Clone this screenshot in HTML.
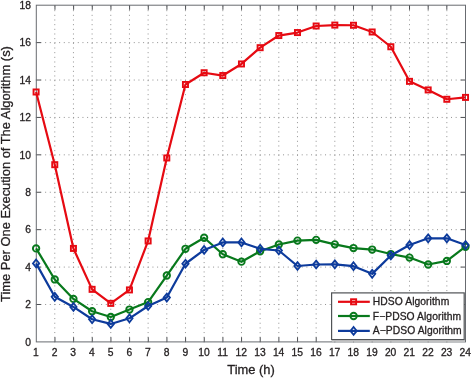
<!DOCTYPE html><html><head><meta charset="utf-8"><title>chart</title><style>html,body{margin:0;padding:0;background:#fff}svg{display:block}text{font-family:"Liberation Sans",Arial,Helvetica,sans-serif;fill:#231f20;stroke:#231f20;stroke-width:0.3px}</style></head><body>
<svg width="472" height="378" viewBox="0 0 472 378">
<rect width="472" height="378" fill="#fff"/>
<path d="M54.77 342.40V5.20M73.44 342.40V5.20M92.11 342.40V5.20M110.78 342.40V5.20M129.45 342.40V5.20M148.12 342.40V5.20M166.79 342.40V5.20M185.46 342.40V5.20M204.13 342.40V5.20M222.80 342.40V5.20M241.47 342.40V5.20M260.14 342.40V5.20M278.81 342.40V5.20M297.48 342.40V5.20M316.15 342.40V5.20M334.82 342.40V5.20M353.49 342.40V5.20M372.16 342.40V5.20M390.83 342.40V5.20M409.50 342.40V5.20M428.17 342.40V5.20M446.84 342.40V5.20M35.80 304.49H465.50M35.80 267.08H465.50M35.80 229.67H465.50M35.80 192.26H465.50M35.80 154.84H465.50M35.80 117.43H465.50M35.80 80.02H465.50M35.80 42.61H465.50" fill="none" stroke="#929292" stroke-width="1" stroke-dasharray="1 3.6652"/>
<path d="M54.96 341.90v-4.6M54.96 5.20v4.6M73.62 341.90v-4.6M73.62 5.20v4.6M92.28 341.90v-4.6M92.28 5.20v4.6M110.94 341.90v-4.6M110.94 5.20v4.6M129.60 341.90v-4.6M129.60 5.20v4.6M148.27 341.90v-4.6M148.27 5.20v4.6M166.93 341.90v-4.6M166.93 5.20v4.6M185.59 341.90v-4.6M185.59 5.20v4.6M204.25 341.90v-4.6M204.25 5.20v4.6M222.91 341.90v-4.6M222.91 5.20v4.6M241.57 341.90v-4.6M241.57 5.20v4.6M260.23 341.90v-4.6M260.23 5.20v4.6M278.89 341.90v-4.6M278.89 5.20v4.6M297.55 341.90v-4.6M297.55 5.20v4.6M316.21 341.90v-4.6M316.21 5.20v4.6M334.87 341.90v-4.6M334.87 5.20v4.6M353.53 341.90v-4.6M353.53 5.20v4.6M372.20 341.90v-4.6M372.20 5.20v4.6M390.86 341.90v-4.6M390.86 5.20v4.6M409.52 341.90v-4.6M409.52 5.20v4.6M428.18 341.90v-4.6M428.18 5.20v4.6M446.84 341.90v-4.6M446.84 5.20v4.6M36.30 304.49h4.6M465.50 304.49h-4.6M36.30 267.08h4.6M465.50 267.08h-4.6M36.30 229.67h4.6M465.50 229.67h-4.6M36.30 192.26h4.6M465.50 192.26h-4.6M36.30 154.84h4.6M465.50 154.84h-4.6M36.30 117.43h4.6M465.50 117.43h-4.6M36.30 80.02h4.6M465.50 80.02h-4.6M36.30 42.61h4.6M465.50 42.61h-4.6" fill="none" stroke="#4c4e52" stroke-width="1"/>
<rect x="36.30" y="5.20" width="429.20" height="336.70" fill="none" stroke="#686b70" stroke-width="1"/>
<polyline points="36.10,91.99 54.77,164.69 73.44,248.42 92.11,289.35 110.78,303.37 129.45,289.92 148.12,240.95 166.79,157.96 185.46,84.51 204.13,72.74 222.80,75.54 241.47,63.95 260.14,47.69 278.81,35.54 297.48,32.55 316.15,26.01 334.82,25.08 353.49,25.27 372.16,31.99 390.83,46.76 409.50,81.34 428.17,89.93 446.84,99.28 465.51,97.41" fill="none" stroke="#e60a12" stroke-width="2.2" stroke-linejoin="round"/>
<rect x="33.55" y="89.44" width="5.1" height="5.1" fill="none" stroke="#e60a12" stroke-width="1.9"/>
<rect x="52.22" y="162.14" width="5.1" height="5.1" fill="none" stroke="#e60a12" stroke-width="1.9"/>
<rect x="70.89" y="245.87" width="5.1" height="5.1" fill="none" stroke="#e60a12" stroke-width="1.9"/>
<rect x="89.56" y="286.80" width="5.1" height="5.1" fill="none" stroke="#e60a12" stroke-width="1.9"/>
<rect x="108.23" y="300.82" width="5.1" height="5.1" fill="none" stroke="#e60a12" stroke-width="1.9"/>
<rect x="126.90" y="287.37" width="5.1" height="5.1" fill="none" stroke="#e60a12" stroke-width="1.9"/>
<rect x="145.57" y="238.40" width="5.1" height="5.1" fill="none" stroke="#e60a12" stroke-width="1.9"/>
<rect x="164.24" y="155.41" width="5.1" height="5.1" fill="none" stroke="#e60a12" stroke-width="1.9"/>
<rect x="182.91" y="81.96" width="5.1" height="5.1" fill="none" stroke="#e60a12" stroke-width="1.9"/>
<rect x="201.58" y="70.19" width="5.1" height="5.1" fill="none" stroke="#e60a12" stroke-width="1.9"/>
<rect x="220.25" y="72.99" width="5.1" height="5.1" fill="none" stroke="#e60a12" stroke-width="1.9"/>
<rect x="238.92" y="61.40" width="5.1" height="5.1" fill="none" stroke="#e60a12" stroke-width="1.9"/>
<rect x="257.59" y="45.14" width="5.1" height="5.1" fill="none" stroke="#e60a12" stroke-width="1.9"/>
<rect x="276.26" y="32.99" width="5.1" height="5.1" fill="none" stroke="#e60a12" stroke-width="1.9"/>
<rect x="294.93" y="30.00" width="5.1" height="5.1" fill="none" stroke="#e60a12" stroke-width="1.9"/>
<rect x="313.60" y="23.46" width="5.1" height="5.1" fill="none" stroke="#e60a12" stroke-width="1.9"/>
<rect x="332.27" y="22.53" width="5.1" height="5.1" fill="none" stroke="#e60a12" stroke-width="1.9"/>
<rect x="350.94" y="22.72" width="5.1" height="5.1" fill="none" stroke="#e60a12" stroke-width="1.9"/>
<rect x="369.61" y="29.44" width="5.1" height="5.1" fill="none" stroke="#e60a12" stroke-width="1.9"/>
<rect x="388.28" y="44.21" width="5.1" height="5.1" fill="none" stroke="#e60a12" stroke-width="1.9"/>
<rect x="406.95" y="78.79" width="5.1" height="5.1" fill="none" stroke="#e60a12" stroke-width="1.9"/>
<rect x="425.62" y="87.38" width="5.1" height="5.1" fill="none" stroke="#e60a12" stroke-width="1.9"/>
<rect x="444.29" y="96.73" width="5.1" height="5.1" fill="none" stroke="#e60a12" stroke-width="1.9"/>
<rect x="462.96" y="94.86" width="5.1" height="5.1" fill="none" stroke="#e60a12" stroke-width="1.9"/>
<polyline points="36.10,248.42 54.77,279.45 73.44,298.89 92.11,311.22 110.78,317.02 129.45,309.54 148.12,302.06 166.79,275.52 185.46,248.80 204.13,237.77 222.80,254.22 241.47,261.69 260.14,251.23 278.81,244.50 297.48,240.57 316.15,239.83 334.82,244.31 353.49,248.05 372.16,249.55 390.83,254.03 409.50,257.58 428.17,264.50 446.84,260.95 465.51,246.74" fill="none" stroke="#08791c" stroke-width="2.2" stroke-linejoin="round"/>
<circle cx="36.10" cy="248.42" r="3.2" fill="none" stroke="#08791c" stroke-width="1.9"/>
<circle cx="54.77" cy="279.45" r="3.2" fill="none" stroke="#08791c" stroke-width="1.9"/>
<circle cx="73.44" cy="298.89" r="3.2" fill="none" stroke="#08791c" stroke-width="1.9"/>
<circle cx="92.11" cy="311.22" r="3.2" fill="none" stroke="#08791c" stroke-width="1.9"/>
<circle cx="110.78" cy="317.02" r="3.2" fill="none" stroke="#08791c" stroke-width="1.9"/>
<circle cx="129.45" cy="309.54" r="3.2" fill="none" stroke="#08791c" stroke-width="1.9"/>
<circle cx="148.12" cy="302.06" r="3.2" fill="none" stroke="#08791c" stroke-width="1.9"/>
<circle cx="166.79" cy="275.52" r="3.2" fill="none" stroke="#08791c" stroke-width="1.9"/>
<circle cx="185.46" cy="248.80" r="3.2" fill="none" stroke="#08791c" stroke-width="1.9"/>
<circle cx="204.13" cy="237.77" r="3.2" fill="none" stroke="#08791c" stroke-width="1.9"/>
<circle cx="222.80" cy="254.22" r="3.2" fill="none" stroke="#08791c" stroke-width="1.9"/>
<circle cx="241.47" cy="261.69" r="3.2" fill="none" stroke="#08791c" stroke-width="1.9"/>
<circle cx="260.14" cy="251.23" r="3.2" fill="none" stroke="#08791c" stroke-width="1.9"/>
<circle cx="278.81" cy="244.50" r="3.2" fill="none" stroke="#08791c" stroke-width="1.9"/>
<circle cx="297.48" cy="240.57" r="3.2" fill="none" stroke="#08791c" stroke-width="1.9"/>
<circle cx="316.15" cy="239.83" r="3.2" fill="none" stroke="#08791c" stroke-width="1.9"/>
<circle cx="334.82" cy="244.31" r="3.2" fill="none" stroke="#08791c" stroke-width="1.9"/>
<circle cx="353.49" cy="248.05" r="3.2" fill="none" stroke="#08791c" stroke-width="1.9"/>
<circle cx="372.16" cy="249.55" r="3.2" fill="none" stroke="#08791c" stroke-width="1.9"/>
<circle cx="390.83" cy="254.03" r="3.2" fill="none" stroke="#08791c" stroke-width="1.9"/>
<circle cx="409.50" cy="257.58" r="3.2" fill="none" stroke="#08791c" stroke-width="1.9"/>
<circle cx="428.17" cy="264.50" r="3.2" fill="none" stroke="#08791c" stroke-width="1.9"/>
<circle cx="446.84" cy="260.95" r="3.2" fill="none" stroke="#08791c" stroke-width="1.9"/>
<circle cx="465.51" cy="246.74" r="3.2" fill="none" stroke="#08791c" stroke-width="1.9"/>
<polyline points="36.10,263.38 54.77,296.83 73.44,306.92 92.11,319.26 110.78,323.93 129.45,318.32 148.12,305.99 166.79,297.58 185.46,263.75 204.13,249.92 222.80,242.44 241.47,242.44 260.14,248.80 278.81,250.48 297.48,265.99 316.15,264.50 334.82,264.31 353.49,266.18 372.16,273.84 390.83,255.53 409.50,245.06 428.17,238.33 446.84,238.33 465.51,245.06" fill="none" stroke="#0d3b9c" stroke-width="2.2" stroke-linejoin="round"/>
<path d="M36.10 259.48l3.15 3.9l-3.15 3.9l-3.15 -3.9z" fill="none" stroke="#0d3b9c" stroke-width="1.8"/>
<path d="M54.77 292.93l3.15 3.9l-3.15 3.9l-3.15 -3.9z" fill="none" stroke="#0d3b9c" stroke-width="1.8"/>
<path d="M73.44 303.02l3.15 3.9l-3.15 3.9l-3.15 -3.9z" fill="none" stroke="#0d3b9c" stroke-width="1.8"/>
<path d="M92.11 315.36l3.15 3.9l-3.15 3.9l-3.15 -3.9z" fill="none" stroke="#0d3b9c" stroke-width="1.8"/>
<path d="M110.78 320.03l3.15 3.9l-3.15 3.9l-3.15 -3.9z" fill="none" stroke="#0d3b9c" stroke-width="1.8"/>
<path d="M129.45 314.42l3.15 3.9l-3.15 3.9l-3.15 -3.9z" fill="none" stroke="#0d3b9c" stroke-width="1.8"/>
<path d="M148.12 302.09l3.15 3.9l-3.15 3.9l-3.15 -3.9z" fill="none" stroke="#0d3b9c" stroke-width="1.8"/>
<path d="M166.79 293.68l3.15 3.9l-3.15 3.9l-3.15 -3.9z" fill="none" stroke="#0d3b9c" stroke-width="1.8"/>
<path d="M185.46 259.85l3.15 3.9l-3.15 3.9l-3.15 -3.9z" fill="none" stroke="#0d3b9c" stroke-width="1.8"/>
<path d="M204.13 246.02l3.15 3.9l-3.15 3.9l-3.15 -3.9z" fill="none" stroke="#0d3b9c" stroke-width="1.8"/>
<path d="M222.80 238.54l3.15 3.9l-3.15 3.9l-3.15 -3.9z" fill="none" stroke="#0d3b9c" stroke-width="1.8"/>
<path d="M241.47 238.54l3.15 3.9l-3.15 3.9l-3.15 -3.9z" fill="none" stroke="#0d3b9c" stroke-width="1.8"/>
<path d="M260.14 244.90l3.15 3.9l-3.15 3.9l-3.15 -3.9z" fill="none" stroke="#0d3b9c" stroke-width="1.8"/>
<path d="M278.81 246.58l3.15 3.9l-3.15 3.9l-3.15 -3.9z" fill="none" stroke="#0d3b9c" stroke-width="1.8"/>
<path d="M297.48 262.09l3.15 3.9l-3.15 3.9l-3.15 -3.9z" fill="none" stroke="#0d3b9c" stroke-width="1.8"/>
<path d="M316.15 260.60l3.15 3.9l-3.15 3.9l-3.15 -3.9z" fill="none" stroke="#0d3b9c" stroke-width="1.8"/>
<path d="M334.82 260.41l3.15 3.9l-3.15 3.9l-3.15 -3.9z" fill="none" stroke="#0d3b9c" stroke-width="1.8"/>
<path d="M353.49 262.28l3.15 3.9l-3.15 3.9l-3.15 -3.9z" fill="none" stroke="#0d3b9c" stroke-width="1.8"/>
<path d="M372.16 269.94l3.15 3.9l-3.15 3.9l-3.15 -3.9z" fill="none" stroke="#0d3b9c" stroke-width="1.8"/>
<path d="M390.83 251.63l3.15 3.9l-3.15 3.9l-3.15 -3.9z" fill="none" stroke="#0d3b9c" stroke-width="1.8"/>
<path d="M409.50 241.16l3.15 3.9l-3.15 3.9l-3.15 -3.9z" fill="none" stroke="#0d3b9c" stroke-width="1.8"/>
<path d="M428.17 234.43l3.15 3.9l-3.15 3.9l-3.15 -3.9z" fill="none" stroke="#0d3b9c" stroke-width="1.8"/>
<path d="M446.84 234.43l3.15 3.9l-3.15 3.9l-3.15 -3.9z" fill="none" stroke="#0d3b9c" stroke-width="1.8"/>
<path d="M465.51 241.16l3.15 3.9l-3.15 3.9l-3.15 -3.9z" fill="none" stroke="#0d3b9c" stroke-width="1.8"/>
<text x="35.90" y="356" font-size="10.3" text-anchor="middle">1</text>
<text x="54.57" y="356" font-size="10.3" text-anchor="middle">2</text>
<text x="73.24" y="356" font-size="10.3" text-anchor="middle">3</text>
<text x="91.91" y="356" font-size="10.3" text-anchor="middle">4</text>
<text x="110.58" y="356" font-size="10.3" text-anchor="middle">5</text>
<text x="129.25" y="356" font-size="10.3" text-anchor="middle">6</text>
<text x="147.92" y="356" font-size="10.3" text-anchor="middle">7</text>
<text x="166.59" y="356" font-size="10.3" text-anchor="middle">8</text>
<text x="185.26" y="356" font-size="10.3" text-anchor="middle">9</text>
<text x="203.93" y="356" font-size="10.3" text-anchor="middle">10</text>
<text x="222.60" y="356" font-size="10.3" text-anchor="middle">11</text>
<text x="241.27" y="356" font-size="10.3" text-anchor="middle">12</text>
<text x="259.94" y="356" font-size="10.3" text-anchor="middle">13</text>
<text x="278.61" y="356" font-size="10.3" text-anchor="middle">14</text>
<text x="297.28" y="356" font-size="10.3" text-anchor="middle">15</text>
<text x="315.95" y="356" font-size="10.3" text-anchor="middle">16</text>
<text x="334.62" y="356" font-size="10.3" text-anchor="middle">17</text>
<text x="353.29" y="356" font-size="10.3" text-anchor="middle">18</text>
<text x="371.96" y="356" font-size="10.3" text-anchor="middle">19</text>
<text x="390.63" y="356" font-size="10.3" text-anchor="middle">20</text>
<text x="409.30" y="356" font-size="10.3" text-anchor="middle">21</text>
<text x="427.97" y="356" font-size="10.3" text-anchor="middle">22</text>
<text x="446.64" y="356" font-size="10.3" text-anchor="middle">23</text>
<text x="465.31" y="356" font-size="10.3" text-anchor="middle">24</text>
<text x="31" y="345.60" font-size="10.3" text-anchor="end">0</text>
<text x="31" y="308.19" font-size="10.3" text-anchor="end">2</text>
<text x="31" y="270.78" font-size="10.3" text-anchor="end">4</text>
<text x="31" y="233.37" font-size="10.3" text-anchor="end">6</text>
<text x="31" y="195.96" font-size="10.3" text-anchor="end">8</text>
<text x="31" y="158.54" font-size="10.3" text-anchor="end">10</text>
<text x="31" y="121.13" font-size="10.3" text-anchor="end">12</text>
<text x="31" y="83.72" font-size="10.3" text-anchor="end">14</text>
<text x="31" y="46.31" font-size="10.3" text-anchor="end">16</text>
<text x="31" y="8.90" font-size="10.3" text-anchor="end">18</text>
<text x="251.1" y="374" font-size="12.9" text-anchor="middle">Time (h)</text>
<text transform="translate(10.4 174) rotate(-90)" font-size="12.9" text-anchor="middle">Time Per One Execution of The Algorithm (s)</text>
<rect x="332" y="339.8" width="133" height="1.8" fill="#d4d4d4"/>
<rect x="331.6" y="292.9" width="132.6" height="46.7" fill="#fff" stroke="#505356" stroke-width="1.2"/>
<path d="M338 301.80H369.8" stroke="#e60a12" stroke-width="2.2" fill="none"/>
<rect x="351.05" y="299.25" width="5.1" height="5.1" fill="none" stroke="#e60a12" stroke-width="1.9"/>
<text x="372.8" y="305.20" font-size="10.3" letter-spacing="0.07">HDSO Algorithm</text>
<path d="M338 316.00H369.8" stroke="#08791c" stroke-width="2.2" fill="none"/>
<circle cx="353.60" cy="316.00" r="3.2" fill="none" stroke="#08791c" stroke-width="1.9"/>
<text x="372.8" y="319.80" font-size="10.3" letter-spacing="0.07">F−PDSO Algorithm</text>
<path d="M338 330.90H369.8" stroke="#0d3b9c" stroke-width="2.2" fill="none"/>
<path d="M353.60 327.00l3.15 3.9l-3.15 3.9l-3.15 -3.9z" fill="none" stroke="#0d3b9c" stroke-width="1.8"/>
<text x="372.8" y="334.40" font-size="10.3" letter-spacing="0.07">A−PDSO Algorithm</text>
</svg></body></html>
